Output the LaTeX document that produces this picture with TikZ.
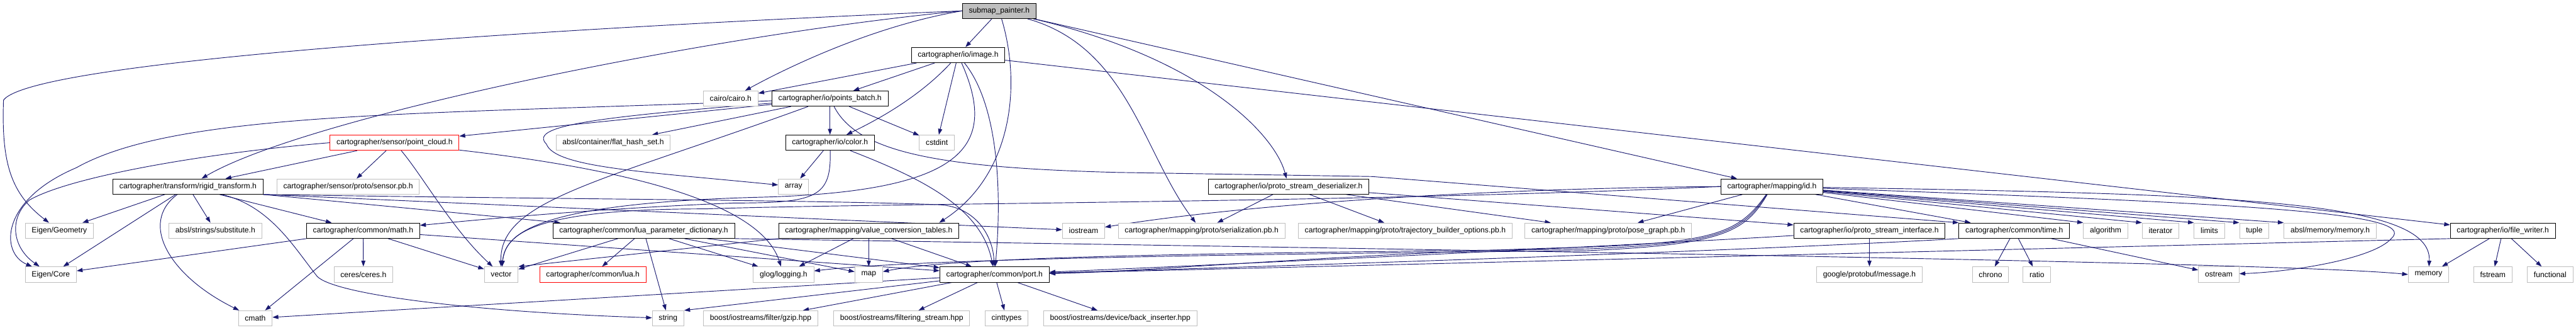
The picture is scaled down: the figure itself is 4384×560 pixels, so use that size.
\documentclass[tikz,border=0pt]{standalone}
\usepackage{fontspec}
\setmainfont{Liberation Sans}
\usetikzlibrary{arrows.meta,backgrounds}
\definecolor{edgeblue}{HTML}{191970}
\definecolor{extgrey}{HTML}{BFBFBF}
\definecolor{rootgrey}{HTML}{BFBFBF}
\definecolor{cutred}{HTML}{FF0000}
\begin{document}
\begin{tikzpicture}[x=1pt, y=-1pt,
  every node/.style={draw, rectangle, fill=white, line width=1pt, inner xsep=11pt, inner ysep=0pt, minimum height=26pt, font=\fontsize{13}{15}\selectfont},
  extfile/.style={draw=extgrey},
  cutfile/.style={draw=cutred},
  rootfile/.style={fill=rootgrey},
  incl/.style={->, draw=edgeblue, line width=1pt},
  >={Triangle[length=10pt,width=7pt]}]
\useasboundingbox (0,0) rectangle (4384,560);

\node[rootfile] (sp) at (1700.5,18.5) {submap\_painter.h};
\node (img) at (1630.5,93.5) {cartographer/io/image.h};
\node[extfile] (cairo) at (1243.5,167.5) {cairo/cairo.h};
\node (pb) at (1412.5,167.5) {cartographer/io/points\_batch.h};
\node[cutfile] (pc) at (671.5,242.5) {cartographer/sensor/point\_cloud.h};
\node[extfile] (fhs) at (1043.5,242.5) {absl/container/flat\_hash\_set.h};
\node (color) at (1412.5,242.5) {cartographer/io/color.h};
\node[extfile] (cstdint) at (1594.5,242.5) {cstdint};
\node (rt) at (320,317) {cartographer/transform/rigid\_transform.h};
\node[extfile] (spb) at (592.5,317) {cartographer/sensor/proto/sensor.pb.h};
\node[extfile] (array) at (1350.5,317) {array};
\node (psd) at (2193,317) {cartographer/io/proto\_stream\_deserializer.h};
\node (id) at (3015.5,317) {cartographer/mapping/id.h};
\node[extfile] (geom) at (101,392) {Eigen/Geometry};
\node[extfile] (subst) at (366.5,392) {absl/strings/substitute.h};
\node (math) at (618,392) {cartographer/common/math.h};
\node (lpd) at (1095.5,392) {cartographer/common/lua\_parameter\_dictionary.h};
\node (vct) at (1478.5,392) {cartographer/mapping/value\_conversion\_tables.h};
\node[extfile] (iostream) at (1844,392) {iostream};
\node[extfile] (ser) at (2045,392) {cartographer/mapping/proto/serialization.pb.h};
\node[extfile] (tbo) at (2391.5,392) {cartographer/mapping/proto/trajectory\_builder\_options.pb.h};
\node[extfile] (pg) at (2737,392) {cartographer/mapping/proto/pose\_graph.pb.h};
\node (psi) at (3181.5,392) {cartographer/io/proto\_stream\_interface.h};
\node (time) at (3428,392) {cartographer/common/time.h};
\node[extfile] (algorithm) at (3583.5,392) {algorithm};
\node[extfile] (iterator) at (3677,392) {iterator};
\node[extfile] (limits) at (3760,392) {limits};
\node[extfile] (tuple) at (3836.5,392) {tuple};
\node[extfile] (amem) at (3965.5,392) {absl/memory/memory.h};
\node (fw) at (4259.5,392) {cartographer/io/file\_writer.h};
\node[extfile] (core) at (86.5,466.5) {Eigen/Core};
\node[extfile] (ceres) at (618.5,466.5) {ceres/ceres.h};
\node[extfile] (vector) at (853,466.5) {vector};
\node[cutfile] (lua) at (1009,466.5) {cartographer/common/lua.h};
\node[extfile] (glog) at (1333.5,466.5) {glog/logging.h};
\node[extfile] (map) at (1478.5,466.5) {map};
\node (port) at (1692.5,466.5) {cartographer/common/port.h};
\node[extfile] (msg) at (3181.5,466.5) {google/protobuf/message.h};
\node[extfile] (chrono) at (3387.5,466.5) {chrono};
\node[extfile] (ratio) at (3466.5,466.5) {ratio};
\node[extfile] (ostream) at (3776,466.5) {ostream};
\node[extfile] (memory) at (4133,466.5) {memory};
\node[extfile] (fstream) at (4242.5,466.5) {fstream};
\node[extfile] (functional) at (4340,466.5) {functional};
\node[extfile] (cmath) at (434.5,541) {cmath};
\node[extfile] (string) at (1137,541) {string};
\node[extfile] (gzip) at (1294.5,541) {boost/iostreams/filter/gzip.hpp};
\node[extfile] (fsh) at (1534.5,541) {boost/iostreams/filtering\_stream.hpp};
\node[extfile] (cinttypes) at (1713,541) {cinttypes};
\node[extfile] (backins) at (1906.5,541) {boost/iostreams/device/back\_inserter.hpp};

\begin{scope}[on background layer]
\draw[incl] (sp.west) .. controls (1000,45) and (60,100) .. (6,170) .. controls (2,280) and (20,330) .. (geom);
\draw[incl] (sp.west) .. controls (1200,60) and (520,200) .. (rt);
\draw[incl] (sp.west) .. controls (1480,45) and (1330,120) .. (cairo);
\draw[incl] (sp) -- (img);
\draw[incl] (sp) .. controls (1740,150) and (1720,300) .. ([xshift=-34pt]vct.north east);
\draw[incl] (sp) .. controls (1920,80) and (1945,260) .. (ser);
\draw[incl] (sp) .. controls (2050,100) and (2170,230) .. (psd);
\draw[incl] (sp) -- (id);

\draw[incl] (img) -- (cairo);
\draw[incl] (img) -- (pb);
\draw[incl] (img) .. controls (1560,170) and (1480,210) .. (color);
\draw[incl] (img) -- (cstdint);
\draw[incl] (img) .. controls (1700,250) and (1640,325) .. (1300,335) .. controls (900,345) and (860,400) .. (vector);
\draw[incl] (img) .. controls (1700,180) and (1705,330) .. (port);
\draw[incl] (img) -- (fw);

\draw[incl] (pb) .. controls (700,195) and (300,190) .. (130,285) .. controls (0,340) and (0,430) .. (core);
\draw[incl] (pb) -- (pc);
\draw[incl] (pb) -- (fhs);
\draw[incl] (pb) .. controls (1000,200) and (900,215) .. (930,245) .. controls (945,285) and (1100,292) .. (array);
\draw[incl] (pb) -- (color);
\draw[incl] (pb) -- (cstdint);
\draw[incl] (pb) .. controls (1020,310) and (850,340) .. (vector);
\draw[incl] (pb) .. controls (1460,260) and (1600,285) .. (1900,293) -- (2335,300) -- (time.north west);

\draw[incl] (pc.west) .. controls (350,260) and (120,300) .. (50,340) .. controls (15,370) and (20,420) .. (core);
\draw[incl] (pc) -- (rt);
\draw[incl] (pc) -- (spb);
\draw[incl] (pc) .. controls (720,300) and (770,390) .. (vector);
\draw[incl] (pc) .. controls (1000,280) and (1290,330) .. (glog);

\draw[incl] (rt) -- (geom);
\draw[incl] (rt) -- (core);
\draw[incl] (rt) .. controls (235,380) and (290,470) .. (cmath);
\draw[incl] (rt) -- (subst);
\draw[incl] (rt) .. controls (460,350) and (500,420) .. (540,470) .. controls (570,500) and (800,530) .. (string);
\draw[incl] (rt) -- (math);
\draw[incl] (rt.south east) -- (lpd);
\draw[incl] (rt.south east) -- (iostream);
\draw[incl] (rt.south east) .. controls (900,338) and (1400,340) .. (1600,348) .. controls (1660,352) and (1690,400) .. (port);

\draw[incl] (math) -- (core);
\draw[incl] (math) -- (cmath);
\draw[incl] (math) -- (ceres);
\draw[incl] (math) -- (vector);
\draw[incl] (math) -- (port);

\draw[incl] (color) -- (array);
\draw[incl] (color) .. controls (1415,335) and (1390,345) .. (1250,345) .. controls (1000,355) and (800,375) .. (math);
\draw[incl] (color) .. controls (1560,300) and (1670,350) .. (port);

\draw[incl] (lpd) -- (vector);
\draw[incl] (lpd) -- (lua);
\draw[incl] (lpd) -- (string);
\draw[incl] (lpd) -- (glog);
\draw[incl] (lpd) -- (map);
\draw[incl] (lpd.south east) .. controls (2500,425) and (3900,446) .. (memory.west);
\draw[incl] (lpd) -- (port);

\draw[incl] (vct.south west) -- (vector.north east);
\draw[incl] (vct) -- (glog);
\draw[incl] (vct) -- (map);
\draw[incl] (vct) -- (port);

\draw[incl] (id) -- (algorithm.north west);
\draw[incl] (id) -- (iterator.north west);
\draw[incl] (id) -- (limits.north west);
\draw[incl] (id) -- (tuple.north west);
\draw[incl] (id) -- (amem.north west);
\draw[incl] (id) .. controls (3800,330) and (4140,340) .. (memory);
\draw[incl] (id) .. controls (3800,345) and (4120,360) .. (4070,405) .. controls (4040,440) and (3900,462) .. (ostream);
\draw[incl] (id.west) .. controls (2500,320) and (2100,350) .. (iostream);
\draw[incl] (id.west) .. controls (2300,345) and (1500,345) .. (1200,355) .. controls (900,355) and (860,400) .. (vector);
\draw[incl] (id) -- (pg);
\draw[incl] (id) -- (time);
\draw[incl] (id) .. controls (2960,395) and (2920,412) .. (2700,420) .. controls (2300,430) and (1950,462) .. (port);
\draw[incl] (id) .. controls (2965,395) and (2925,414) .. (2700,423) .. controls (2200,430) and (1650,432) .. (map);
\draw[incl] (id) .. controls (2970,395) and (2930,416) .. (2700,426) .. controls (2100,432) and (1560,440) .. (glog);

\draw[incl] (time) -- (chrono);
\draw[incl] (time) -- (ratio);
\draw[incl] (time) -- (ostream);
\draw[incl] (time.south west) .. controls (3000,425) and (2200,452) .. (port);

\draw[incl] (psi) -- (msg);
\draw[incl] (psi) .. controls (2900,410) and (2300,440) .. (port);

\draw[incl] (fw.south west) -- (port);
\draw[incl] (fw) -- (memory);
\draw[incl] (fw) -- (fstream);
\draw[incl] (fw) -- (functional);

\draw[incl] (psd) -- (tbo);
\draw[incl] (psd) -- (pg);
\draw[incl] (psd) -- (ser);
\draw[incl] (psd) -- (psi);

\draw[incl] (port) -- (cmath);
\draw[incl] (port) -- (string.north east);
\draw[incl] (port) -- (gzip);
\draw[incl] (port) -- (fsh);
\draw[incl] (port) -- (cinttypes);
\draw[incl] (port) -- (backins);
\end{scope}
\end{tikzpicture}
\end{document}
